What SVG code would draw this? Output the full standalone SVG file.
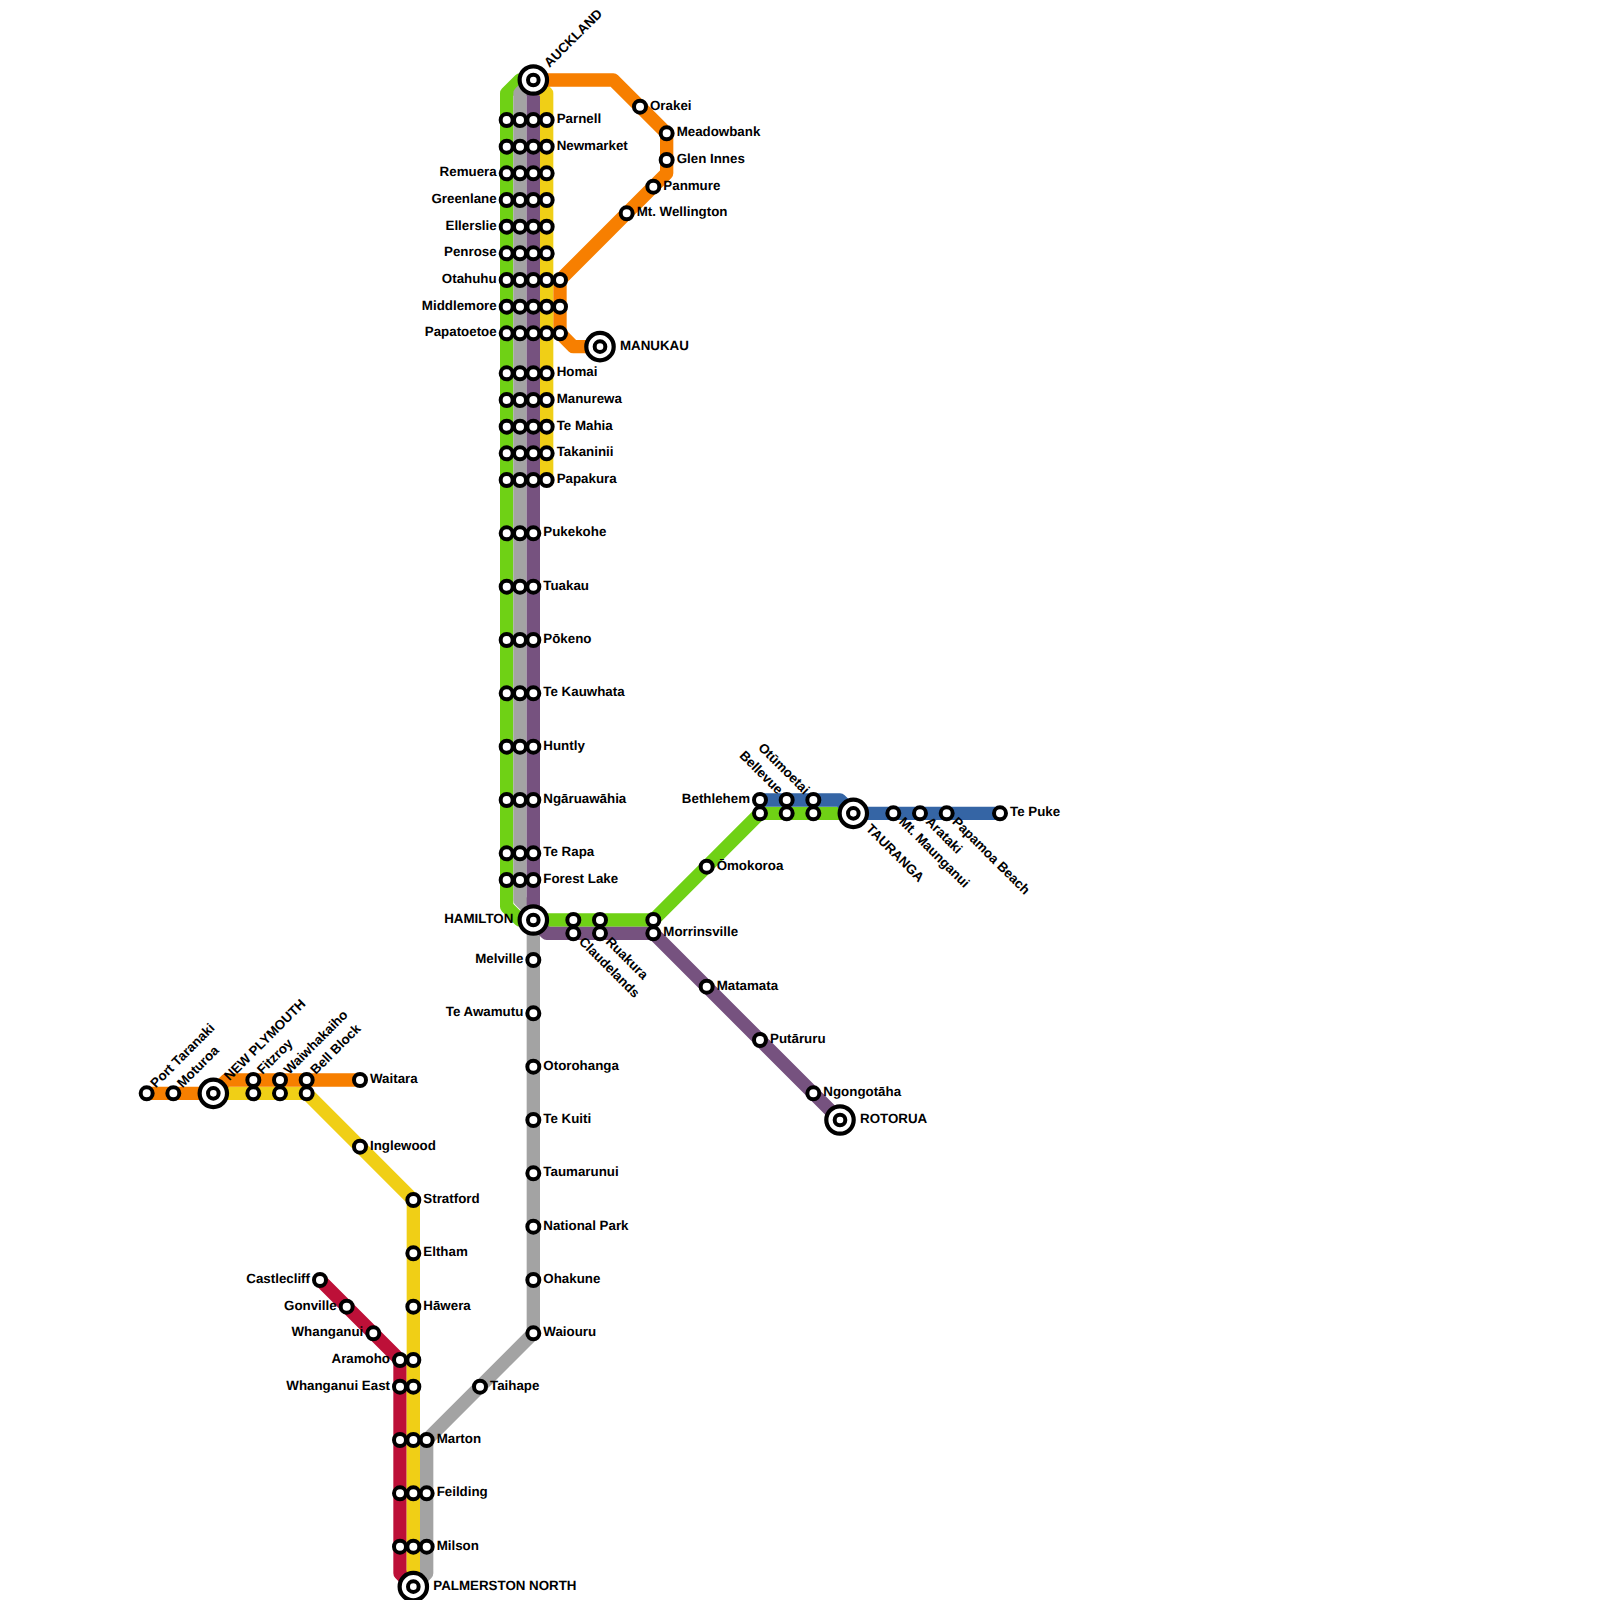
<svg xmlns="http://www.w3.org/2000/svg" width="1600" height="1600" viewBox="0 0 1600 1600">
<style>
.l{fill:none;stroke-width:13.33;stroke-linejoin:round;stroke-linecap:butt}
.s{fill:#fff;stroke:#000;stroke-width:4}
.b{fill:#fff;stroke:#000;stroke-width:4.2}
.t{font:700 13.33px "Liberation Sans",Arial,sans-serif;fill:#000;text-rendering:geometricPrecision}
.e{text-anchor:end}
</style>
<rect width="1600" height="1600" fill="#fff"/>
<g id="connectors">
<path class="l" stroke="#bd1038" d="M320 1280L400 1360V1573.33L413.33 1586.67"/>
<path class="l" stroke="#6fd115" d="M533.33 80H520L506.67 93.33V906.67L520 920H653.33L760 813.33H853.33"/>
<path class="l" stroke="#a3a3a3" d="M533.33 80L520 93.33V900L533.33 913.33V1333.33L426.67 1440V1573.33L413.33 1586.67"/>
<path class="l" stroke="#76527f" d="M533.33 80V920L546.67 933.33H653.33L840 1120"/>
<path class="l" stroke="#f0cf16" d="M533.33 80L546.67 93.33V480"/>
<path class="l" stroke="#f0cf16" d="M213.33 1093.33H306.67L413.33 1200V1586.67"/>
<path class="l" stroke="#f77f00" d="M533.33 80H613.33L666.67 133.33V173.33L560 280V333.33L573.33 346.67H600"/>
<path class="l" stroke="#f77f00" d="M146.67 1093.33H213.33L226.67 1080H360"/>
<path class="l" stroke="#3565a5" d="M760 800H840L853.33 813.33H1000"/>
</g>
<g id="parnell"><circle class="s" r="6" cx="506.67" cy="120"/><circle class="s" r="6" cx="520" cy="120"/><circle class="s" r="6" cx="533.33" cy="120"/><circle class="s" r="6" cx="546.67" cy="120"/><text class="t" x="556.67" y="123">Parnell</text></g>
<g id="newmarket"><circle class="s" r="6" cx="506.67" cy="146.67"/><circle class="s" r="6" cx="520" cy="146.67"/><circle class="s" r="6" cx="533.33" cy="146.67"/><circle class="s" r="6" cx="546.67" cy="146.67"/><text class="t" x="556.67" y="149.67">Newmarket</text></g>
<g id="remuera"><circle class="s" r="6" cx="506.67" cy="173.33"/><circle class="s" r="6" cx="520" cy="173.33"/><circle class="s" r="6" cx="533.33" cy="173.33"/><circle class="s" r="6" cx="546.67" cy="173.33"/><text class="t e" x="496.67" y="176.33">Remuera</text></g>
<g id="greenlane"><circle class="s" r="6" cx="506.67" cy="200"/><circle class="s" r="6" cx="520" cy="200"/><circle class="s" r="6" cx="533.33" cy="200"/><circle class="s" r="6" cx="546.67" cy="200"/><text class="t e" x="496.67" y="203">Greenlane</text></g>
<g id="ellerslie"><circle class="s" r="6" cx="506.67" cy="226.67"/><circle class="s" r="6" cx="520" cy="226.67"/><circle class="s" r="6" cx="533.33" cy="226.67"/><circle class="s" r="6" cx="546.67" cy="226.67"/><text class="t e" x="496.67" y="229.67">Ellerslie</text></g>
<g id="penrose"><circle class="s" r="6" cx="506.67" cy="253.33"/><circle class="s" r="6" cx="520" cy="253.33"/><circle class="s" r="6" cx="533.33" cy="253.33"/><circle class="s" r="6" cx="546.67" cy="253.33"/><text class="t e" x="496.67" y="256.33">Penrose</text></g>
<g id="otahuhu"><circle class="s" r="6" cx="506.67" cy="280"/><circle class="s" r="6" cx="520" cy="280"/><circle class="s" r="6" cx="533.33" cy="280"/><circle class="s" r="6" cx="546.67" cy="280"/><circle class="s" r="6" cx="560" cy="280"/><text class="t e" x="496.67" y="283">Otahuhu</text></g>
<g id="middlemore"><circle class="s" r="6" cx="506.67" cy="306.67"/><circle class="s" r="6" cx="520" cy="306.67"/><circle class="s" r="6" cx="533.33" cy="306.67"/><circle class="s" r="6" cx="546.67" cy="306.67"/><circle class="s" r="6" cx="560" cy="306.67"/><text class="t e" x="496.67" y="309.67">Middlemore</text></g>
<g id="papatoetoe"><circle class="s" r="6" cx="506.67" cy="333.33"/><circle class="s" r="6" cx="520" cy="333.33"/><circle class="s" r="6" cx="533.33" cy="333.33"/><circle class="s" r="6" cx="546.67" cy="333.33"/><circle class="s" r="6" cx="560" cy="333.33"/><text class="t e" x="496.67" y="336.33">Papatoetoe</text></g>
<g id="homai"><circle class="s" r="6" cx="506.67" cy="373.33"/><circle class="s" r="6" cx="520" cy="373.33"/><circle class="s" r="6" cx="533.33" cy="373.33"/><circle class="s" r="6" cx="546.67" cy="373.33"/><text class="t" x="556.67" y="376.33">Homai</text></g>
<g id="manurewa"><circle class="s" r="6" cx="506.67" cy="400"/><circle class="s" r="6" cx="520" cy="400"/><circle class="s" r="6" cx="533.33" cy="400"/><circle class="s" r="6" cx="546.67" cy="400"/><text class="t" x="556.67" y="403">Manurewa</text></g>
<g id="te-mahia"><circle class="s" r="6" cx="506.67" cy="426.67"/><circle class="s" r="6" cx="520" cy="426.67"/><circle class="s" r="6" cx="533.33" cy="426.67"/><circle class="s" r="6" cx="546.67" cy="426.67"/><text class="t" x="556.67" y="429.67">Te Mahia</text></g>
<g id="takaninii"><circle class="s" r="6" cx="506.67" cy="453.33"/><circle class="s" r="6" cx="520" cy="453.33"/><circle class="s" r="6" cx="533.33" cy="453.33"/><circle class="s" r="6" cx="546.67" cy="453.33"/><text class="t" x="556.67" y="456.33">Takaninii</text></g>
<g id="papakura"><circle class="s" r="6" cx="506.67" cy="480"/><circle class="s" r="6" cx="520" cy="480"/><circle class="s" r="6" cx="533.33" cy="480"/><circle class="s" r="6" cx="546.67" cy="480"/><text class="t" x="556.67" y="483">Papakura</text></g>
<g id="pukekohe"><circle class="s" r="6" cx="506.67" cy="533.33"/><circle class="s" r="6" cx="520" cy="533.33"/><circle class="s" r="6" cx="533.33" cy="533.33"/><text class="t" x="543.33" y="536.33">Pukekohe</text></g>
<g id="tuakau"><circle class="s" r="6" cx="506.67" cy="586.67"/><circle class="s" r="6" cx="520" cy="586.67"/><circle class="s" r="6" cx="533.33" cy="586.67"/><text class="t" x="543.33" y="589.67">Tuakau</text></g>
<g id="pokeno"><circle class="s" r="6" cx="506.67" cy="640"/><circle class="s" r="6" cx="520" cy="640"/><circle class="s" r="6" cx="533.33" cy="640"/><text class="t" x="543.33" y="643">Pōkeno</text></g>
<g id="te-kauwhata"><circle class="s" r="6" cx="506.67" cy="693.33"/><circle class="s" r="6" cx="520" cy="693.33"/><circle class="s" r="6" cx="533.33" cy="693.33"/><text class="t" x="543.33" y="696.33">Te Kauwhata</text></g>
<g id="huntly"><circle class="s" r="6" cx="506.67" cy="746.67"/><circle class="s" r="6" cx="520" cy="746.67"/><circle class="s" r="6" cx="533.33" cy="746.67"/><text class="t" x="543.33" y="749.67">Huntly</text></g>
<g id="ngaruawahia"><circle class="s" r="6" cx="506.67" cy="800"/><circle class="s" r="6" cx="520" cy="800"/><circle class="s" r="6" cx="533.33" cy="800"/><text class="t" x="543.33" y="803">Ngāruawāhia</text></g>
<g id="te-rapa"><circle class="s" r="6" cx="506.67" cy="853.33"/><circle class="s" r="6" cx="520" cy="853.33"/><circle class="s" r="6" cx="533.33" cy="853.33"/><text class="t" x="543.33" y="856.33">Te Rapa</text></g>
<g id="forest-lake"><circle class="s" r="6" cx="506.67" cy="880"/><circle class="s" r="6" cx="520" cy="880"/><circle class="s" r="6" cx="533.33" cy="880"/><text class="t" x="543.33" y="883">Forest Lake</text></g>
<g id="auckland"><circle class="b" r="13.7" cx="533.33" cy="80"/><circle class="s" r="5.33" cx="533.33" cy="80"/><text class="t" transform="translate(533.33 80) rotate(-45)" x="20" y="3">AUCKLAND</text></g>
<g id="orakei"><circle class="s" r="6" cx="640" cy="106.67"/><text class="t" x="650" y="109.67">Orakei</text></g>
<g id="meadowbank"><circle class="s" r="6" cx="666.67" cy="133.33"/><text class="t" x="676.67" y="136.33">Meadowbank</text></g>
<g id="glen-innes"><circle class="s" r="6" cx="666.67" cy="160"/><text class="t" x="676.67" y="163">Glen Innes</text></g>
<g id="panmure"><circle class="s" r="6" cx="653.33" cy="186.67"/><text class="t" x="663.33" y="189.67">Panmure</text></g>
<g id="mt-wellington"><circle class="s" r="6" cx="626.67" cy="213.33"/><text class="t" x="636.67" y="216.33">Mt. Wellington</text></g>
<g id="manukau"><circle class="b" r="13.7" cx="600" cy="346.67"/><circle class="s" r="5.33" cx="600" cy="346.67"/><text class="t" x="620" y="349.67">MANUKAU</text></g>
<g id="hamilton"><circle class="b" r="13.7" cx="533.33" cy="920"/><circle class="s" r="5.33" cx="533.33" cy="920"/><text class="t e" x="513.33" y="923">HAMILTON</text></g>
<g id="melville"><circle class="s" r="6" cx="533.33" cy="960"/><text class="t e" x="523.33" y="963">Melville</text></g>
<g id="te-awamutu"><circle class="s" r="6" cx="533.33" cy="1013.33"/><text class="t e" x="523.33" y="1016.33">Te Awamutu</text></g>
<g id="otorohanga"><circle class="s" r="6" cx="533.33" cy="1066.67"/><text class="t" x="543.33" y="1069.67">Otorohanga</text></g>
<g id="te-kuiti"><circle class="s" r="6" cx="533.33" cy="1120"/><text class="t" x="543.33" y="1123">Te Kuiti</text></g>
<g id="taumarunui"><circle class="s" r="6" cx="533.33" cy="1173.33"/><text class="t" x="543.33" y="1176.33">Taumarunui</text></g>
<g id="national-park"><circle class="s" r="6" cx="533.33" cy="1226.67"/><text class="t" x="543.33" y="1229.67">National Park</text></g>
<g id="ohakune"><circle class="s" r="6" cx="533.33" cy="1280"/><text class="t" x="543.33" y="1283">Ohakune</text></g>
<g id="waiouru"><circle class="s" r="6" cx="533.33" cy="1333.33"/><text class="t" x="543.33" y="1336.33">Waiouru</text></g>
<g id="taihape"><circle class="s" r="6" cx="480" cy="1386.67"/><text class="t" x="490" y="1389.67">Taihape</text></g>
<g id="marton"><circle class="s" r="6" cx="400" cy="1440"/><circle class="s" r="6" cx="413.33" cy="1440"/><circle class="s" r="6" cx="426.67" cy="1440"/><text class="t" x="436.67" y="1443">Marton</text></g>
<g id="feilding"><circle class="s" r="6" cx="400" cy="1493.33"/><circle class="s" r="6" cx="413.33" cy="1493.33"/><circle class="s" r="6" cx="426.67" cy="1493.33"/><text class="t" x="436.67" y="1496.33">Feilding</text></g>
<g id="milson"><circle class="s" r="6" cx="400" cy="1546.67"/><circle class="s" r="6" cx="413.33" cy="1546.67"/><circle class="s" r="6" cx="426.67" cy="1546.67"/><text class="t" x="436.67" y="1549.67">Milson</text></g>
<g id="palmerston-north"><circle class="b" r="13.7" cx="413.33" cy="1586.67"/><circle class="s" r="5.33" cx="413.33" cy="1586.67"/><text class="t" x="433.33" y="1589.67">PALMERSTON NORTH</text></g>
<g id="castlecliff"><circle class="s" r="6" cx="320" cy="1280"/><text class="t e" x="310" y="1283">Castlecliff</text></g>
<g id="gonville"><circle class="s" r="6" cx="346.67" cy="1306.67"/><text class="t e" x="336.67" y="1309.67">Gonville</text></g>
<g id="whanganui"><circle class="s" r="6" cx="373.33" cy="1333.33"/><text class="t e" x="363.33" y="1336.33">Whanganui</text></g>
<g id="aramoho"><circle class="s" r="6" cx="400" cy="1360"/><circle class="s" r="6" cx="413.33" cy="1360"/><text class="t e" x="390" y="1363">Aramoho</text></g>
<g id="whanganui-east"><circle class="s" r="6" cx="400" cy="1386.67"/><circle class="s" r="6" cx="413.33" cy="1386.67"/><text class="t e" x="390" y="1389.67">Whanganui East</text></g>
<g id="stratford"><circle class="s" r="6" cx="413.33" cy="1200"/><text class="t" x="423.33" y="1203">Stratford</text></g>
<g id="eltham"><circle class="s" r="6" cx="413.33" cy="1253.33"/><text class="t" x="423.33" y="1256.33">Eltham</text></g>
<g id="hawera"><circle class="s" r="6" cx="413.33" cy="1306.67"/><text class="t" x="423.33" y="1309.67">Hāwera</text></g>
<g id="inglewood"><circle class="s" r="6" cx="360" cy="1146.67"/><text class="t" x="370" y="1149.67">Inglewood</text></g>
<g id="waitara"><circle class="s" r="6" cx="360" cy="1080"/><text class="t" x="370" y="1083">Waitara</text></g>
<g id="port-taranaki"><circle class="s" r="6" cx="146.67" cy="1093.33"/><text class="t" transform="translate(146.67 1093.33) rotate(-45)" x="10" y="3">Port Taranaki</text></g>
<g id="moturoa"><circle class="s" r="6" cx="173.33" cy="1093.33"/><text class="t" transform="translate(173.33 1093.33) rotate(-45)" x="10" y="3">Moturoa</text></g>
<g id="new-plymouth"><circle class="b" r="13.7" cx="213.33" cy="1093.33"/><circle class="s" r="5.33" cx="213.33" cy="1093.33"/><text class="t" transform="translate(213.33 1093.33) rotate(-45)" x="20" y="3">NEW PLYMOUTH</text></g>
<g id="fitzroy"><circle class="s" r="6" cx="253.33" cy="1080"/><circle class="s" r="6" cx="253.33" cy="1093.33"/><text class="t" transform="translate(253.33 1080) rotate(-45)" x="10" y="3">Fitzroy</text></g>
<g id="waiwhakaiho"><circle class="s" r="6" cx="280" cy="1080"/><circle class="s" r="6" cx="280" cy="1093.33"/><text class="t" transform="translate(280 1080) rotate(-45)" x="10" y="3">Waiwhakaiho</text></g>
<g id="bell-block"><circle class="s" r="6" cx="306.67" cy="1080"/><circle class="s" r="6" cx="306.67" cy="1093.33"/><text class="t" transform="translate(306.67 1080) rotate(-45)" x="10" y="3">Bell Block</text></g>
<g id="claudelands"><circle class="s" r="6" cx="573.33" cy="920"/><circle class="s" r="6" cx="573.33" cy="933.33"/><text class="t" transform="translate(573.33 933.33) rotate(45)" x="10" y="3">Claudelands</text></g>
<g id="ruakura"><circle class="s" r="6" cx="600" cy="920"/><circle class="s" r="6" cx="600" cy="933.33"/><text class="t" transform="translate(600 933.33) rotate(45)" x="10" y="3">Ruakura</text></g>
<g id="morrinsville"><circle class="s" r="6" cx="653.33" cy="920"/><circle class="s" r="6" cx="653.33" cy="933.33"/><text class="t" x="663.33" y="936.33">Morrinsville</text></g>
<g id="matamata"><circle class="s" r="6" cx="706.67" cy="986.67"/><text class="t" x="716.67" y="989.67">Matamata</text></g>
<g id="putaruru"><circle class="s" r="6" cx="760" cy="1040"/><text class="t" x="770" y="1043">Putāruru</text></g>
<g id="ngongotaha"><circle class="s" r="6" cx="813.33" cy="1093.33"/><text class="t" x="823.33" y="1096.33">Ngongotāha</text></g>
<g id="rotorua"><circle class="b" r="13.7" cx="840" cy="1120"/><circle class="s" r="5.33" cx="840" cy="1120"/><text class="t" x="860" y="1123">ROTORUA</text></g>
<g id="omokoroa"><circle class="s" r="6" cx="706.67" cy="866.67"/><text class="t" x="716.67" y="869.67">Ōmokoroa</text></g>
<g id="bethlehem"><circle class="s" r="6" cx="760" cy="800"/><circle class="s" r="6" cx="760" cy="813.33"/><text class="t e" x="750" y="803">Bethlehem</text></g>
<g id="bellevue"><circle class="s" r="6" cx="786.67" cy="800"/><circle class="s" r="6" cx="786.67" cy="813.33"/><text class="t e" transform="translate(786.67 800) rotate(45)" x="-10" y="3">Bellevue</text></g>
<g id="otumoetai"><circle class="s" r="6" cx="813.33" cy="800"/><circle class="s" r="6" cx="813.33" cy="813.33"/><text class="t e" transform="translate(813.33 800) rotate(45)" x="-10" y="3">Otūmoetai</text></g>
<g id="tauranga"><circle class="b" r="13.7" cx="853.33" cy="813.33"/><circle class="s" r="5.33" cx="853.33" cy="813.33"/><text class="t" transform="translate(853.33 813.33) rotate(45)" x="20" y="3">TAURANGA</text></g>
<g id="mt-maunganui"><circle class="s" r="6" cx="893.33" cy="813.33"/><text class="t" transform="translate(893.33 813.33) rotate(45)" x="10" y="3">Mt. Maunganui</text></g>
<g id="arataki"><circle class="s" r="6" cx="920" cy="813.33"/><text class="t" transform="translate(920 813.33) rotate(45)" x="10" y="3">Arataki</text></g>
<g id="papamoa-beach"><circle class="s" r="6" cx="946.67" cy="813.33"/><text class="t" transform="translate(946.67 813.33) rotate(45)" x="10" y="3">Papamoa Beach</text></g>
<g id="te-puke"><circle class="s" r="6" cx="1000" cy="813.33"/><text class="t" x="1010" y="816.33">Te Puke</text></g>
</svg>
